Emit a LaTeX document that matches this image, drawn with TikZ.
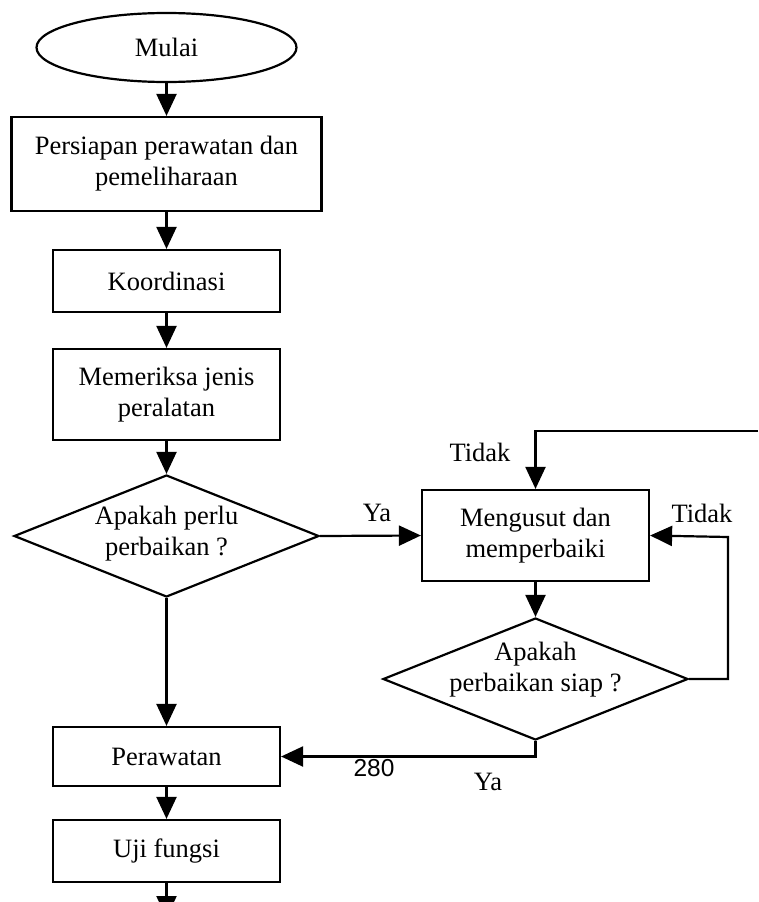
\documentclass[tikz,border=0pt]{standalone}
\usepackage{fontspec}
\setmainfont{Liberation Serif}
\newfontfamily\numfont{Liberation Sans}
\usetikzlibrary{shapes.geometric,arrows.meta}
\begin{document}
\begin{tikzpicture}[x=1pt,y=-1pt,
  font=\fontsize{26.5}{31}\selectfont,
  line width=2.2pt,
  boxnode/.style={draw,rectangle,inner sep=0pt,align=center,minimum width=227pt},
  decnode/.style={draw,diamond,inner sep=0pt,minimum width=305pt,minimum height=122pt},
  txt/.style={inner sep=0pt,align=center},
  arr/.style={-{Triangle[length=22pt,width=20pt]}}]
\useasboundingbox (0,0) rectangle (758,902);
\clip (0,0) rectangle (758,902);
\fill[white] (0,0) rectangle (758,902);
\node[draw,ellipse,minimum width=260pt,minimum height=69pt,inner sep=0pt] (start) at (166.5,47.5) {Mulai};
\node[boxnode,minimum width=310pt,minimum height=94pt] (prep) at (166.5,164) {Persiapan perawatan dan\\pemeliharaan};
\node[boxnode,minimum height=62pt] (koord) at (166.5,281) {Koordinasi};
\node[boxnode,minimum height=91pt] (cek) at (166.5,394.5) {Memeriksa jenis\\peralatan};
\node[decnode] (d1) at (166.5,536) {};
\node[txt] (d1t) at (166.5,534) {Apakah perlu\\perbaikan ?};
\node[boxnode,minimum height=91pt] (fix) at (535.5,535.5) {Mengusut dan\\memperbaiki};
\node[decnode] (d2) at (535.5,679) {};
\node[txt] (d2t) at (535.5,670) {Apakah\\perbaikan siap ?};
\node[boxnode,minimum height=59pt] (rawat) at (166.5,756.5) {Perawatan};
\node[boxnode,minimum height=62pt] (uji) at (166.5,851) {Uji fungsi};
\coordinate (topin) at (758,431);
\coordinate (endout) at (166.5,918);
\coordinate (rloop) at (728,537);
\draw[arr] (start) -- (prep);
\draw[arr] (prep) -- (koord);
\draw[arr] (koord) -- (cek);
\draw[arr] (cek) -- (d1.north);
\draw[arr] (d1.south) -- (rawat);
\draw[arr] (d1.east) -- (fix.west);
\draw[arr] (fix) -- (d2.north);
\draw[arr] (d2.east) -| (rloop) -- (fix.east);
\draw[arr] (topin) -| (fix.north);
\draw[arr] (d2.south) |- (rawat.east);
\draw[arr] (rawat) -- (uji);
\draw[arr] (uji) -- (endout);
\node[txt] (lya1) at (377,513) {Ya};
\node[txt] (ltd1) at (480,452) {Tidak};
\node[txt] (ltd2) at (702,513) {Tidak};
\node[txt] (lya2) at (488,782) {Ya};
\node[txt,font=\numfont\fontsize{24.5}{28}\selectfont] (l280) at (374,768) {280};
\end{tikzpicture}
\end{document}
